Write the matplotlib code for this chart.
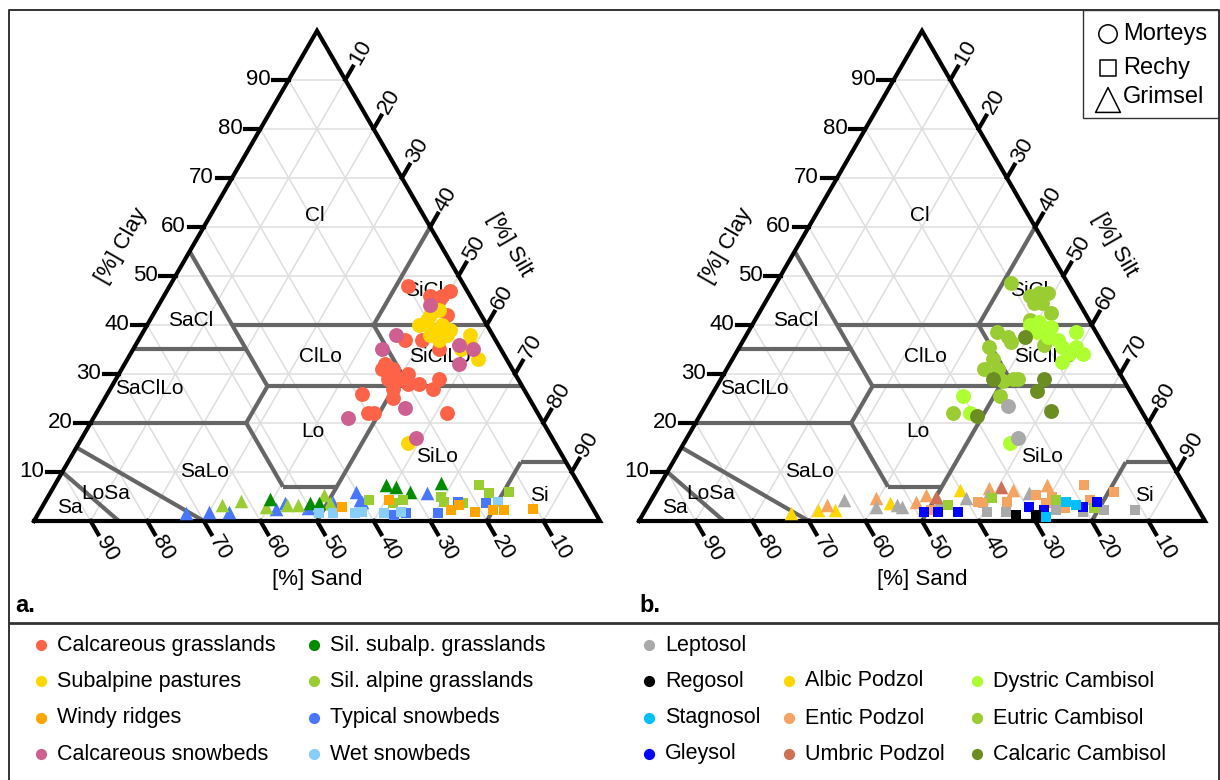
import numpy as np
import matplotlib.pyplot as plt

plt.rcParams['font.family'] = ['Liberation Sans', 'DejaVu Sans']

# soil samples as (clay %, silt %); sand is the remainder
# --- a. vegetation units ---
calc_grasslands = [(48, 42), (46, 47), (46, 49), (47, 50), (45, 49), (42, 52), (37, 47), (37, 50),
                   (35, 54), (32, 46), (31, 46), (31, 48), (29, 50), (28, 52), (28, 54), (27, 50),
                   (29, 57), (27, 57), (26, 45), (25, 51), (22, 48), (22, 49), (22, 62), (29, 48), (30, 51)]
subalp_pastures = [(41, 49), (42, 49), (43, 50), (39, 51), (40, 52), (39, 54), (38, 51), (37, 53),
                   (38, 58), (35, 58), (33, 62), (36, 59), (16, 58), (38, 54), (40, 48)]
calc_snowbeds = [(44, 48), (38, 45), (35, 44), (36, 57), (35, 60), (32, 59), (21, 45), (23, 54), (17, 59)]

typ_snowbeds_tri = [(1.6, 26), (1.8, 30), (1.8, 33.5), (2.4, 41.5), (3.7, 42.5), (2.7, 47), (3.7, 51),
                    (5.9, 54), (3.9, 56), (5.7, 66.5), (4.3, 55.5)]
typ_snowbeds_sq = [(1.6, 65), (1.6, 70.5), (3.9, 73), (3.7, 78), (1.2, 63)]
sil_alpine_tri = [(3.3, 31.5), (4.1, 34.5), (2.9, 39.5), (3.3, 43), (3.3, 45), (5.3, 48.5), (3.7, 50.5)]
sil_alpine_sq = [(7.3, 75), (5.7, 77.5), (5.9, 81), (3.7, 61.5), (4.3, 63), (4.9, 69.5), (3.9, 70.5),
                 (3.7, 74), (4.3, 57)]
sil_subalp_tri = [(4.5, 39.5), (3.7, 47), (3.7, 48.5), (7.3, 58.5), (6.9, 60.5), (5.9, 63.5), (7.8, 68)]
wet_snowbeds_sq = [(1.6, 49.5), (1.6, 52), (1.6, 56), (1.8, 57), (1.6, 61), (1.8, 64), (3.9, 80)]
windy_ridges_sq = [(2.9, 53), (4.3, 60.5), (2.2, 72.5), (1.8, 77), (2.2, 80), (2.2, 82), (2.4, 87), (3.3, 73.5)]

# --- b. soil types ---
eutric_circ = [(48.5, 41.5), (46, 46), (46.5, 47.5), (46.5, 49), (44.5, 47.5), (44.5, 49), (42.5, 51.5),
               (41, 48.5), (38.5, 44), (37.5, 46.5), (36.5, 47.5), (35.5, 44), (33, 46), (31, 45.5),
               (31, 48), (28.5, 50), (29, 51.5), (29, 52.5), (25.5, 51), (22, 44.5), (36, 53.5)]
dystric_circ = [(40, 49), (40.5, 50.5), (39.5, 53), (38.5, 51), (37.5, 53.5), (37, 55.5), (35.5, 57),
                (38.5, 58), (35.5, 59.5), (34, 61.5), (32.5, 58.5), (25.5, 44.5), (22, 47.5), (16, 57.5), (34, 59)]
calcaric_circ = [(37.5, 49.5), (29, 57), (26.5, 57), (22.5, 61.5), (29, 48), (21.5, 49)]
leptosol_circ = [(23.5, 53.5), (17, 58.5)]

albic_tri = [(1.6, 26), (2.2, 30.5), (2.2, 33.5), (3.7, 42.5), (6.3, 53.5)]
entic_tri = [(3.3, 31.5), (4.7, 39.5), (3.9, 47), (5.3, 48), (6.7, 58.5), (6.3, 63), (7.3, 68.5)]
leptosol_tri = [(4.3, 34), (2.9, 40.5), (3.3, 44), (2.9, 45), (3.9, 51), (4.7, 55.5), (5.3, 59), (5.7, 66)]
umbric_tri = [(4.9, 50), (6.9, 60.5)]
gleysol_sq = [(1.8, 49.5), (1.8, 52), (1.8, 55.5), (2.9, 67.5), (2.2, 70.5), (2.9, 77), (3.9, 79)]
leptosol_sq = [(1.8, 60.5), (1.8, 64), (2.2, 72.5), (1.8, 77.5), (2.2, 81), (2.2, 86.5)]
regosol_sq = [(1.2, 66), (1.2, 69.5)]
stagnosol_sq = [(0.8, 71.5), (3.9, 73.5), (3.3, 75.5)]
entic_sq = [(2.2, 50.5), (3.9, 58), (3.7, 59), (3.9, 63), (5.3, 67.5), (4.9, 70.5), (3.7, 70), (2.7, 74),
            (7.3, 75), (5.9, 81), (4.3, 77.5)]
eutric_sq = [(3.3, 53), (4.7, 60), (4.3, 71.5), (2.7, 79)]

# USDA texture class boundaries, segments of (clay, silt)
usda_lines = [
    [(55, 0), (27.5, 27.5)],
    [(40, 15), (40, 60)],
    [(35, 0), (35, 20)],
    [(60, 40), (40, 40)],
    [(40, 40), (27.5, 52.5)],
    [(27.5, 27.5), (27.5, 72.5)],
    [(27.5, 27.5), (20, 27.5)],
    [(20, 0), (20, 27.5)],
    [(20, 27.5), (7, 40.5)],
    [(7, 40.5), (7, 50)],
    [(27.5, 50), (0, 50)],
    [(12, 80), (12, 88)],
    [(12, 80), (0, 80)],
    [(15, 0), (0, 30)],
    [(10, 0), (0, 15)],
]
class_names = ['Cl', 'SiCl', 'SaCl', 'ClLo', 'SiClLo', 'SaClLo', 'Lo', 'SaLo', 'SiLo', 'LoSa', 'Sa', 'Si']
class_pos = [(62.4, 18.4), (47, 45.5), (41, 7.1), (33.5, 33.8), (33.5, 55), (27.1, 6.9), (18.2, 40.2),
             (10, 25.2), (13.1, 64.7), (5.7, 9.8), (2.7, 5), (5.3, 86.7)]
ticks = list(range(10, 100, 10))

W, H, S = 1220, 780, 566
R3 = np.sqrt(3) / 2


def txy(pts):
    pts = np.asarray(pts, dtype=float) / 100
    clay, silt = pts[..., 0], pts[..., 1]
    return silt + clay / 2, clay * R3


fig = plt.figure(figsize=(W / 100, H / 100), dpi=100)


def make_axes(x0, y0):
    xmin, xmax, ymin, ymax = -0.08, 1.08, -0.16, 0.92
    ax = fig.add_axes([(x0 + xmin * S) / W, (H - y0 + ymin * S) / H,
                       (xmax - xmin) * S / W, (ymax - ymin) * S / H])
    ax.set_xlim(xmin, xmax)
    ax.set_ylim(ymin, ymax)
    ax.axis('off')
    return ax


def draw_ternary(ax):
    # light grid every 10 %
    for v in ticks:
        for seg in ([(v, 0), (v, 100 - v)], [(0, v), (100 - v, v)], [(0, 100 - v), (100 - v, 0)]):
            x, y = txy(seg)
            ax.plot(x, y, color='#dedede', lw=1.1, zorder=1)
    for seg in usda_lines:
        x, y = txy(seg)
        ax.plot(x, y, color='#666666', lw=3, zorder=2, solid_capstyle='butt')
    x, y = txy([(0, 0), (0, 100), (100, 0), (0, 0)])
    ax.plot(x, y, color='black', lw=3, zorder=4, solid_joinstyle='miter')

    L, D = 0.027, 0.056
    for v in ticks:
        # clay, left side
        x, y = map(float, txy((v, 0)))
        ax.plot([x, x - L], [y, y], color='black', lw=3, zorder=4)
        ax.text(x - L - 0.005, y, str(v), ha='right', va='center', fontsize=16)
        # silt, right side
        x, y = map(float, txy((100 - v, v)))
        ax.plot([x, x + L * 0.5], [y, y + L * R3], color='black', lw=3, zorder=4)
        ax.text(x + D * 0.5, y + D * R3, str(v), ha='center', va='center', rotation=60, fontsize=16)
        # sand, bottom
        x, y = map(float, txy((0, 100 - v)))
        ax.plot([x, x + L * 0.5], [y, y - L * R3], color='black', lw=3, zorder=4)
        ax.text(x + D * 0.5, y - D * R3, str(v), ha='center', va='center', rotation=-60, fontsize=16)

    ax.text(0.155, 0.486, '[%] Clay', rotation=60, ha='center', va='center', fontsize=16)
    ax.text(0.840, 0.488, '[%] Silt', rotation=-60, ha='center', va='center', fontsize=16)
    ax.text(0.5, -0.104, '[%] Sand', ha='center', va='center', fontsize=16)

    for name, pos in zip(class_names, class_pos):
        x, y = map(float, txy(pos))
        ax.text(x, y, name, ha='center', va='center', fontsize=15, zorder=3)


def scatter(ax, pts, color, marker):
    x, y = txy(pts)
    size = {'o': 115, '^': 95, 's': 62}[marker]
    ax.scatter(x, y, s=size, c=color, marker=marker, linewidths=0, zorder=5)


ax_a = make_axes(34, 521)
ax_b = make_axes(639, 521)
draw_ternary(ax_a)
draw_ternary(ax_b)

groups_a = [
    (typ_snowbeds_tri, '#4876FF', '^'), (sil_alpine_tri, '#9ACD32', '^'), (sil_subalp_tri, '#008B00', '^'),
    (sil_alpine_sq, '#9ACD32', 's'), (typ_snowbeds_sq, '#4876FF', 's'), (wet_snowbeds_sq, '#87CEFA', 's'),
    (windy_ridges_sq, '#FFA500', 's'),
    (calc_grasslands, '#FF6347', 'o'), (subalp_pastures, '#FFD700', 'o'), (calc_snowbeds, '#CD6090', 'o'),
]
groups_b = [
    (albic_tri, '#FFD700', '^'), (entic_tri, '#F4A460', '^'), (leptosol_tri, '#A9A9A9', '^'),
    (umbric_tri, '#CD7054', '^'),
    (entic_sq, '#F4A460', 's'), (eutric_sq, '#9ACD32', 's'), (leptosol_sq, '#A9A9A9', 's'),
    (gleysol_sq, '#0000FF', 's'), (stagnosol_sq, '#00BFFF', 's'), (regosol_sq, '#000000', 's'),
    (eutric_circ, '#9ACD32', 'o'), (dystric_circ, '#ADFF2F', 'o'), (calcaric_circ, '#6B8E23', 'o'),
    (leptosol_circ, '#A9A9A9', 'o'),
]
for pts, col, mk in groups_a:
    scatter(ax_a, pts, col, mk)
for pts, col, mk in groups_b:
    scatter(ax_b, pts, col, mk)

# frame, panel letters and legends in pixel space
ov = fig.add_axes([0, 0, 1, 1])
ov.set_xlim(0, W)
ov.set_ylim(H, 0)
ov.axis('off')
ov.plot([9, 9, 1219, 1219], [780, 10, 10, 780], color='#333333', lw=1.4)
ov.plot([9, 1219], [623, 623], color='#333333', lw=2)
ov.text(15, 605, 'a.', fontsize=17, fontweight='bold', va='center')
ov.text(639, 605, 'b.', fontsize=17, fontweight='bold', va='center')

ov.fill([1083, 1219, 1219, 1083], [10, 10, 118, 118], facecolor='white', edgecolor='#333333', lw=1)
site_names = ['Morteys', 'Rechy', 'Grimsel']
site_markers = ['o', 's', '^']
site_y = [34, 68, 97]
for name, mk, yy in zip(site_names, site_markers, site_y):
    ov.scatter([1108], [yy + (3 if mk == '^' else 0)], marker=mk, s={'o': 175, 's': 135, '^': 320}[mk],
               facecolors='none', edgecolors='black', linewidths=1.1)
    ov.text(1123, yy, name, fontsize=17, va='center')

legend_a = [['Calcareous grasslands', 'Subalpine pastures', 'Windy ridges', 'Calcareous snowbeds'],
            ['Sil. subalp. grasslands', 'Sil. alpine grasslands', 'Typical snowbeds', 'Wet snowbeds']]
colors_a = [['#FF6347', '#FFD700', '#FFA500', '#CD6090'], ['#008B00', '#9ACD32', '#4876FF', '#87CEFA']]
legend_b = [['Leptosol', 'Regosol', 'Stagnosol', 'Gleysol'],
            [None, 'Albic Podzol', 'Entic Podzol', 'Umbric Podzol'],
            [None, 'Dystric Cambisol', 'Eutric Cambisol', 'Calcaric Cambisol']]
colors_b = [['#A9A9A9', '#000000', '#00BFFF', '#0000FF'], [None, '#FFD700', '#F4A460', '#CD7054'],
            [None, '#ADFF2F', '#9ACD32', '#6B8E23']]
row_y = [645, 681, 718, 754]
col_x = [41, 314, 649, 789, 977]
for cx, names, cols in zip(col_x, legend_a + legend_b, colors_a + colors_b):
    for yy, name, col in zip(row_y, names, cols):
        if name is None:
            continue
        ov.scatter([cx], [yy], s=65, c=col, linewidths=0)
        ov.text(cx + 16, yy, name, fontsize=15.5, va='center')

fig.savefig('out.png', dpi=100)
